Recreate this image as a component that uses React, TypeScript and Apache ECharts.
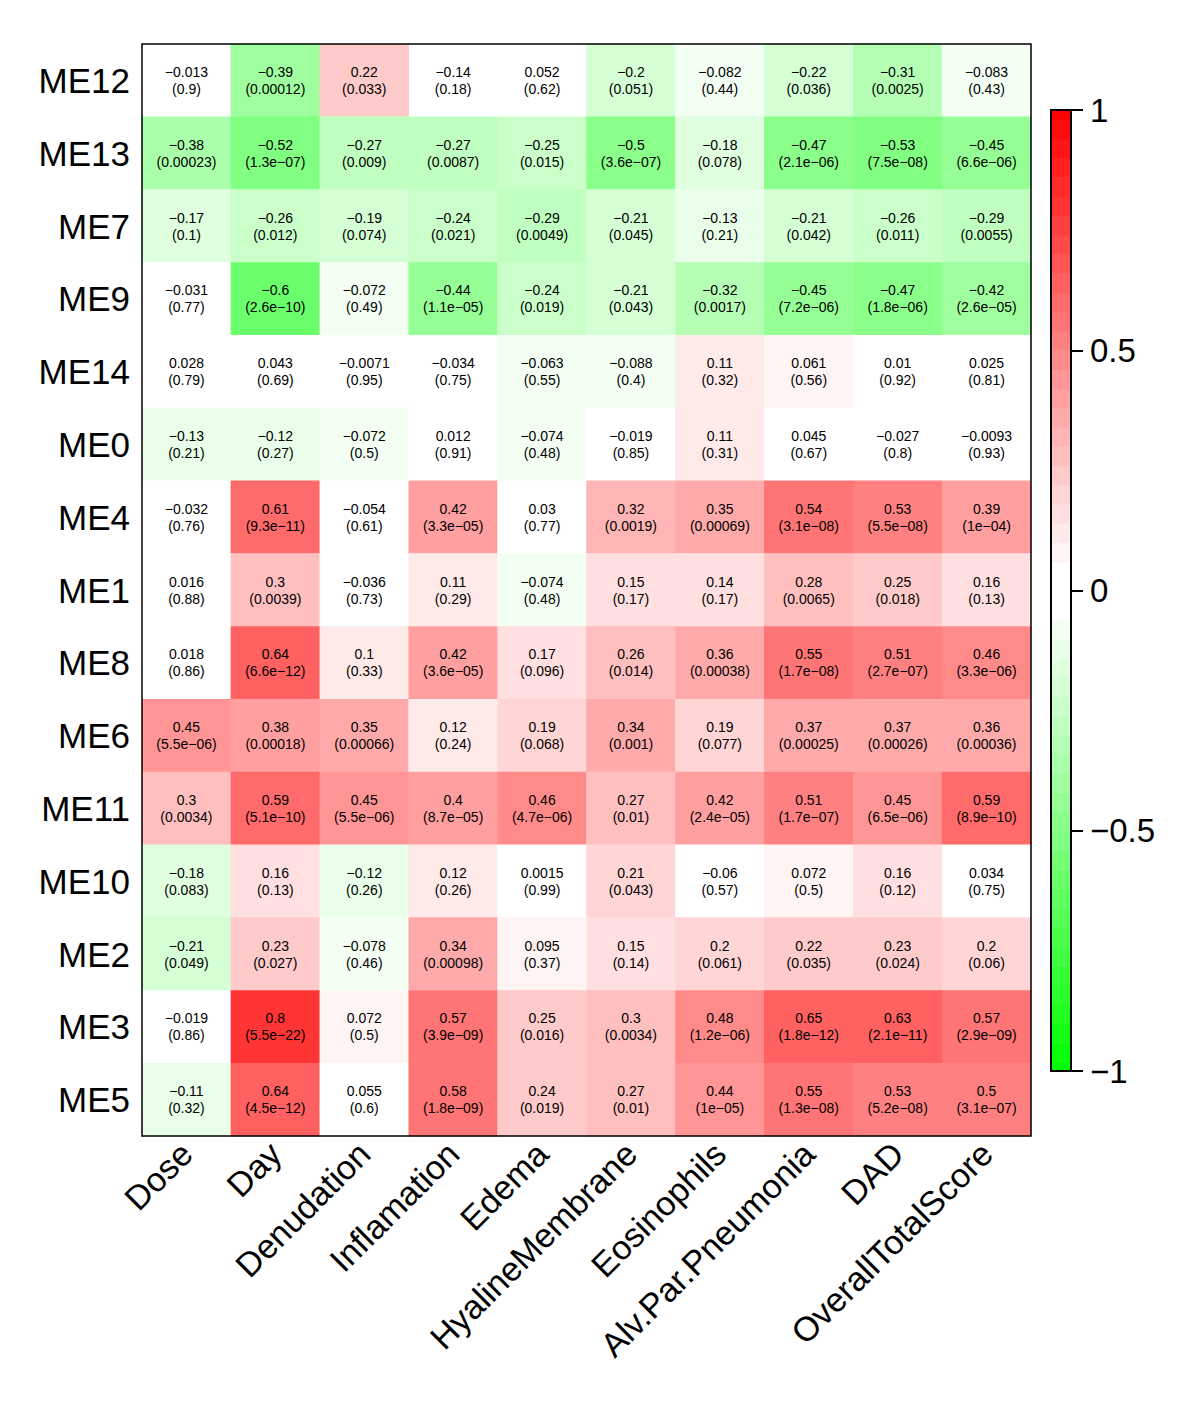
import React, { useEffect, useRef } from "react";
import * as echarts from "echarts";

const traits = ["Dose", "Day", "Denudation", "Inflamation", "Edema", "HyalineMembrane", "Eosinophils", "Alv.Par.Pneumonia", "DAD", "OverallTotalScore"];
const modules = ["ME12", "ME13", "ME7", "ME9", "ME14", "ME0", "ME4", "ME1", "ME8", "ME6", "ME11", "ME10", "ME2", "ME3", "ME5"];

const corr: number[][] = [
  [-0.013, -0.39, 0.22, -0.14, 0.052, -0.2, -0.082, -0.22, -0.31, -0.083],
  [-0.38, -0.52, -0.27, -0.27, -0.25, -0.5, -0.18, -0.47, -0.53, -0.45],
  [-0.17, -0.26, -0.19, -0.24, -0.29, -0.21, -0.13, -0.21, -0.26, -0.29],
  [-0.031, -0.6, -0.072, -0.44, -0.24, -0.21, -0.32, -0.45, -0.47, -0.42],
  [0.028, 0.043, -0.0071, -0.034, -0.063, -0.088, 0.11, 0.061, 0.01, 0.025],
  [-0.13, -0.12, -0.072, 0.012, -0.074, -0.019, 0.11, 0.045, -0.027, -0.0093],
  [-0.032, 0.61, -0.054, 0.42, 0.03, 0.32, 0.35, 0.54, 0.53, 0.39],
  [0.016, 0.3, -0.036, 0.11, -0.074, 0.15, 0.14, 0.28, 0.25, 0.16],
  [0.018, 0.64, 0.1, 0.42, 0.17, 0.26, 0.36, 0.55, 0.51, 0.46],
  [0.45, 0.38, 0.35, 0.12, 0.19, 0.34, 0.19, 0.37, 0.37, 0.36],
  [0.3, 0.59, 0.45, 0.4, 0.46, 0.27, 0.42, 0.51, 0.45, 0.59],
  [-0.18, 0.16, -0.12, 0.12, 0.0015, 0.21, -0.06, 0.072, 0.16, 0.034],
  [-0.21, 0.23, -0.078, 0.34, 0.095, 0.15, 0.2, 0.22, 0.23, 0.2],
  [-0.019, 0.8, 0.072, 0.57, 0.25, 0.3, 0.48, 0.65, 0.63, 0.57],
  [-0.11, 0.64, 0.055, 0.58, 0.24, 0.27, 0.44, 0.55, 0.53, 0.5],
];

const pvals: string[][] = [
  ["0.9", "0.00012", "0.033", "0.18", "0.62", "0.051", "0.44", "0.036", "0.0025", "0.43"],
  ["0.00023", "1.3e-07", "0.009", "0.0087", "0.015", "3.6e-07", "0.078", "2.1e-06", "7.5e-08", "6.6e-06"],
  ["0.1", "0.012", "0.074", "0.021", "0.0049", "0.045", "0.21", "0.042", "0.011", "0.0055"],
  ["0.77", "2.6e-10", "0.49", "1.1e-05", "0.019", "0.043", "0.0017", "7.2e-06", "1.8e-06", "2.6e-05"],
  ["0.79", "0.69", "0.95", "0.75", "0.55", "0.4", "0.32", "0.56", "0.92", "0.81"],
  ["0.21", "0.27", "0.5", "0.91", "0.48", "0.85", "0.31", "0.67", "0.8", "0.93"],
  ["0.76", "9.3e-11", "0.61", "3.3e-05", "0.77", "0.0019", "0.00069", "3.1e-08", "5.5e-08", "1e-04"],
  ["0.88", "0.0039", "0.73", "0.29", "0.48", "0.17", "0.17", "0.0065", "0.018", "0.13"],
  ["0.86", "6.6e-12", "0.33", "3.6e-05", "0.096", "0.014", "0.00038", "1.7e-08", "2.7e-07", "3.3e-06"],
  ["5.5e-06", "0.00018", "0.00066", "0.24", "0.068", "0.001", "0.077", "0.00025", "0.00026", "0.00036"],
  ["0.0034", "5.1e-10", "5.5e-06", "8.7e-05", "4.7e-06", "0.01", "2.4e-05", "1.7e-07", "6.5e-06", "8.9e-10"],
  ["0.083", "0.13", "0.26", "0.26", "0.99", "0.043", "0.57", "0.5", "0.12", "0.75"],
  ["0.049", "0.027", "0.46", "0.00098", "0.37", "0.14", "0.061", "0.035", "0.024", "0.06"],
  ["0.86", "5.5e-22", "0.5", "3.9e-09", "0.016", "0.0034", "1.2e-06", "1.8e-12", "2.1e-11", "2.9e-09"],
  ["0.32", "4.5e-12", "0.6", "1.8e-09", "0.019", "0.01", "1e-05", "1.3e-08", "5.2e-08", "3.1e-07"],
];

const colorTicks = [-1, -0.5, 0, 0.5, 1];

// colour bins: centred on multiples of 0.04, white for the three central bins
const STEP = 0.04;
const HALF = 25;
function binColor(m: number): string {
  const a = Math.abs(m);
  const t = a <= 1 ? 0 : (a - 1) / (HALF - 1);
  const h = (v: number) => Math.round(v * 255);
  if (m >= 0) return `rgb(255,${h(1 - t)},${h(1 - t)})`;
  return `rgb(${h(1 - t)},255,${h(1 - t)})`;
}

const bins = Array.from({ length: 2 * HALF + 1 }, (_, i) => {
  const m = i - HALF;
  const lo = Math.max(-1, m * STEP - STEP / 2);
  const hi = Math.min(1, m * STEP + STEP / 2);
  return { lo, hi, color: binColor(m) };
});

const minus = (s: string) => s.replace(/-/g, "\u2212");

export default function App() {
  const ref = useRef<HTMLDivElement>(null);
  useEffect(() => {
    document.body.style.margin = "0";
    if (!ref.current) return;
    const chart = echarts.init(ref.current, null, { renderer: "svg" });
    const data: number[][] = [];
    const labels: string[] = [];
    corr.forEach((row, i) =>
      row.forEach((v, j) => {
        data.push([j, i, v]);
        labels.push(minus(String(v)) + "\n(" + minus(pvals[i][j]) + ")");
      })
    );
    const fontFamily = "'Liberation Sans', Arial, Helvetica, sans-serif";
    const gridL = 142, gridT = 44, gridW = 889, gridH = 1092;
    const cbL = 1051, cbT = 110, cbW = 20, cbH = 961;
    chart.setOption({
      animation: false,
      backgroundColor: "#fff",
      textStyle: { fontFamily },
      grid: [
        { left: gridL, top: gridT, width: gridW, height: gridH },
        { left: cbL, top: cbT, width: cbW, height: cbH },
      ],
      xAxis: [
        {
          type: "category",
          gridIndex: 0,
          data: traits,
          axisLine: { show: false },
          axisTick: { show: false },
          splitLine: { show: false },
          axisLabel: { interval: 0, rotate: 45, fontSize: 34, color: "#000", margin: 12, fontFamily },
        },
        { type: "value", gridIndex: 1, min: 0, max: 1, show: false },
      ],
      yAxis: [
        {
          type: "category",
          gridIndex: 0,
          data: modules,
          inverse: true,
          axisLine: { show: false },
          axisTick: { show: false },
          splitLine: { show: false },
          axisLabel: { interval: 0, fontSize: 35, color: "#000", margin: 12, fontFamily },
        },
        {
          type: "value",
          gridIndex: 1,
          min: -1,
          max: 1,
          interval: 0.5,
          position: "right",
          axisLine: { show: true, onZero: false, lineStyle: { color: "#000", width: 2 } },
          axisTick: { show: true, inside: false, length: 12, lineStyle: { color: "#000", width: 2 } },
          splitLine: { show: false },
          axisLabel: {
            fontSize: 33,
            color: "#000",
            margin: 19,
            fontFamily,
            formatter: (v: number) => (colorTicks.includes(v) ? minus(String(v)) : ""),
          },
        },
      ],
      visualMap: {
        type: "piecewise",
        show: false,
        seriesIndex: 0,
        dimension: 2,
        pieces: bins.map((b, k) =>
          k === bins.length - 1 ? { gte: b.lo, lte: b.hi, color: b.color } : { gte: b.lo, lt: b.hi, color: b.color }
        ),
      },
      series: [
        {
          type: "heatmap",
          xAxisIndex: 0,
          yAxisIndex: 0,
          data,
          label: {
            show: true,
            color: "#000",
            fontSize: 14,
            lineHeight: 17,
            fontFamily,
            formatter: (p: any) => labels[p.dataIndex],
          },
          emphasis: { disabled: true },
        },
        {
          type: "custom",
          xAxisIndex: 1,
          yAxisIndex: 1,
          z: 1,
          data: bins.map((b) => [b.lo, b.hi]),
          encode: { y: [0, 1] },
          renderItem: (params: any, api: any) => {
            const lo = api.value(0);
            const hi = api.value(1);
            const p1 = api.coord([0, hi]);
            const p2 = api.coord([1, lo]);
            return {
              type: "rect",
              shape: { x: p1[0], y: p1[1], width: p2[0] - p1[0], height: p2[1] - p1[1] + 0.5 },
              style: { fill: bins[params.dataIndex].color },
            };
          },
        },
      ],
      graphic: [
        {
          type: "rect",
          z: 100,
          shape: { x: gridL, y: gridT, width: gridW, height: gridH },
          style: { fill: "none", stroke: "#000", lineWidth: 1.5 },
          silent: true,
        },
        {
          type: "rect",
          z: 100,
          shape: { x: cbL, y: cbT, width: cbW, height: cbH },
          style: { fill: "none", stroke: "#000", lineWidth: 2 },
          silent: true,
        },
      ],
    });
    return () => chart.dispose();
  }, []);
  return <div ref={ref} style={{ width: 1200, height: 1412 }} />;
}
